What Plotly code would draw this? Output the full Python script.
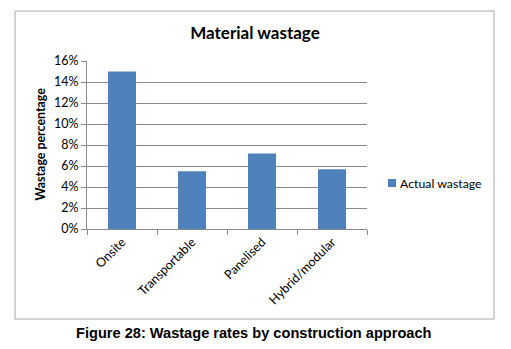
import plotly.graph_objects as go

categories = ["Onsite", "Transportable", "Panelised", "Hybrid/modular"]
actual_wastage = [0.15, 0.055, 0.072, 0.057]
series_name = "Actual wastage"
chart_title = "Material wastage"
y_title = "Wastage percentage"
caption = "Figure 28: Wastage rates by construction approach"

W, H = 511, 349
L, R, T, B = 87, 367, 61, 229  # plot area pixels
pw, ph = R - L, B - T

def px_x(x):
    return (x - L) / pw

def px_y(y):
    return (B - y) / ph

font_body = "Lato, Carlito, 'Open Sans', sans-serif"
grid_col = "#8a8a8a"
bar_col = "#4F81BD"

fig = go.Figure()
fig.add_trace(go.Bar(
    x=categories, y=actual_wastage, name=series_name,
    marker=dict(color=bar_col, line=dict(width=0)),
    showlegend=False,
))

fig.update_layout(
    width=W, height=H,
    margin=dict(l=L, r=W - R, t=T, b=H - B, autoexpand=False),
    paper_bgcolor="white", plot_bgcolor="white",
    bargap=0.6,
    title=dict(text="<b>" + chart_title + "</b>", x=(255) / W, xanchor="center",
               y=1 - 33 / H, yanchor="middle",
               font=dict(family=font_body, size=17, color="#000")),
    showlegend=False,
    xaxis=dict(
        type="category", tickangle=-45, showgrid=False,
        showline=True, linecolor=grid_col, linewidth=1,
        ticks="outside", tickson="boundaries", ticklen=5, tickcolor=grid_col,
        tickfont=dict(family=font_body, size=12.5, color="#000"),
        fixedrange=True,
    ),
    yaxis=dict(
        range=[0, 0.16], dtick=0.02, tickformat=".0%",
        showgrid=True, gridcolor=grid_col, gridwidth=1,
        showline=True, linecolor=grid_col, linewidth=1,
        ticks="outside", ticklen=5, tickcolor=grid_col,
        tickfont=dict(family=font_body, size=12.5, color="#000"),
        zeroline=False,
    ),
    shapes=[
        dict(type="rect", xref="paper", yref="paper",
             x0=px_x(15), x1=px_x(494), y0=px_y(319), y1=px_y(11),
             line=dict(color="#a8a8a8", width=1), fillcolor="rgba(0,0,0,0)",
             layer="below"),
        # legend key
        dict(type="rect", xref="paper", yref="paper",
             x0=px_x(388), x1=px_x(396), y0=px_y(187), y1=px_y(179),
             line=dict(width=0), fillcolor=bar_col),
    ],
    annotations=[
        dict(text=series_name, xref="paper", yref="paper",
             x=px_x(398), y=px_y(183), showarrow=False,
             xanchor="left", yanchor="middle",
             font=dict(family=font_body, size=12.3, color="#000")),
        dict(text="<b>" + y_title + "</b>", xref="paper", yref="paper",
             x=px_x(40), y=px_y(144.5), textangle=-90, showarrow=False,
             xanchor="center", yanchor="middle",
             font=dict(family=font_body, size=12.4, color="#000")),
        dict(text="<b>" + caption + "</b>", xref="paper", yref="paper",
             x=px_x(254), y=px_y(333), showarrow=False,
             xanchor="center", yanchor="middle",
             font=dict(family="Liberation Sans, Arial, sans-serif", size=14.6, color="#000")),
    ],
)

fig.write_html("out.html")
